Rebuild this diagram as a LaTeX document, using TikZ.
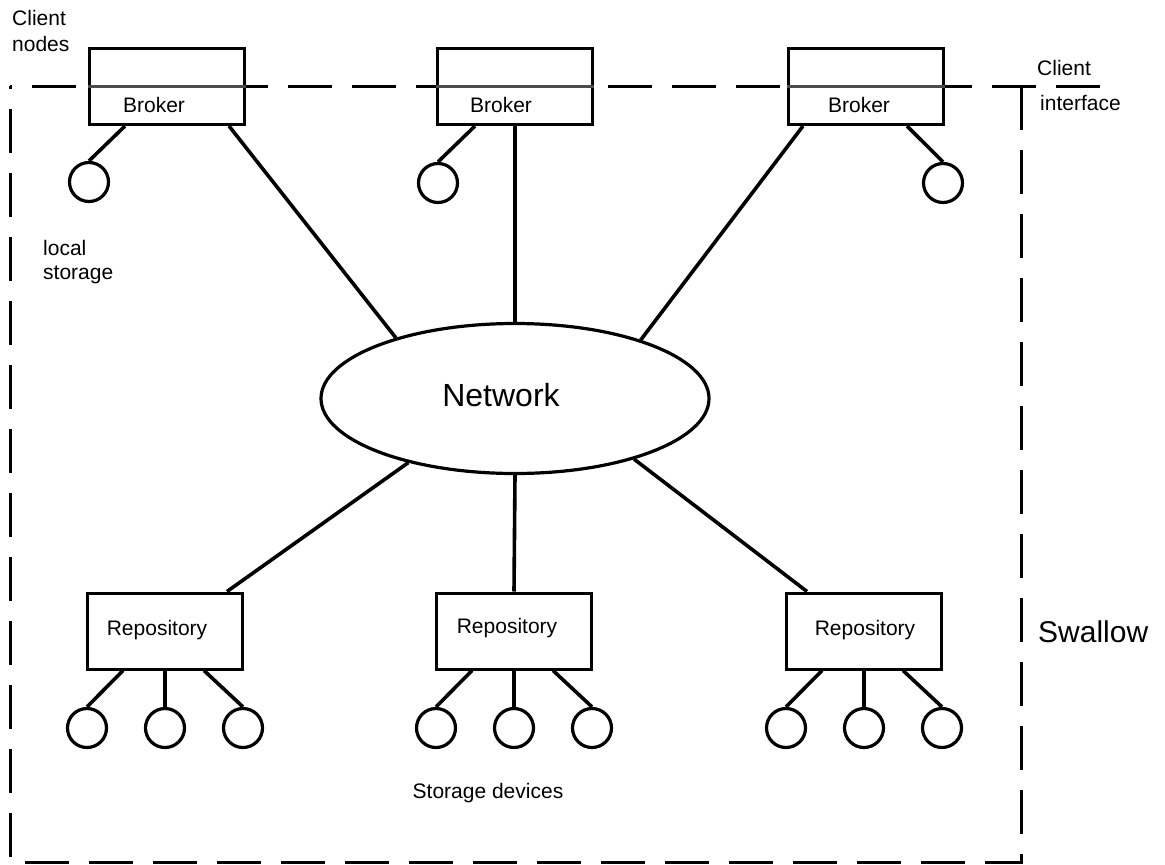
\documentclass[tikz,border=0pt]{standalone}
\usepackage{fontspec}
\setmainfont{Liberation Sans}
\usetikzlibrary{shapes.geometric,calc}
\begin{document}
\begin{tikzpicture}[x=1pt,y=-1pt,
  box/.style={draw,line width=3pt,minimum width=155pt,minimum height=76pt,inner sep=0pt},
  disk/.style={draw,circle,line width=3.2pt,minimum size=39pt,inner sep=0pt},
  link/.style={line width=3.6pt},
  bound/.style={line width=3pt,dash pattern=on 44pt off 20pt},
  inbox/.style={line width=2.4pt,black!70},
  lbl/.style={font=\fontsize{21}{24}\selectfont,inner sep=0pt},
]
\useasboundingbox (0,0) rectangle (1165,865);

% frame
\draw[bound] (1100,86) -- (10,86);
\draw[bound] (1021,86) -- (1021,862) -- (10,862) -- (10,86);

% brokers
\node[box] (b1) at (167,86.5) {};
\node[box] (b2) at (515,86.5) {};
\node[box] (b3) at (866,86.5) {};
\draw[inbox] (b1.west) -- (b1.east);
\draw[inbox] (b2.west) -- (b2.east);
\draw[inbox] (b3.west) -- (b3.east);
\node[lbl] (b1t) at (154,105) {Broker};
\node[lbl] (b2t) at (501,105) {Broker};
\node[lbl] (b3t) at (859,105) {Broker};

% local storage disks
\node[disk] (c1) at (89,182) {};
\node[disk] (c2) at (438,183) {};
\node[disk] (c3) at (943,183) {};

% network
\node[draw,ellipse,line width=3.2pt,minimum width=388pt,minimum height=150pt,inner sep=0pt] (net) at (515,398.5) {};
\node[font=\fontsize{32}{36}\selectfont,inner sep=0pt] (nett) at (501,395) {Network};

% repositories
\node[box] (r1) at (165,631) {};
\node[box] (r2) at (514,631) {};
\node[box] (r3) at (864,631) {};
\node[lbl] (r1t) at (157,630) {Repository};
\node[lbl] (r2t) at (507,628) {Repository};
\node[lbl] (r3t) at (865,630) {Repository};

% storage devices
\node[disk] (d11) at (87,728) {};
\node[disk] (d12) at (165,728) {};
\node[disk] (d13) at (243,728) {};
\node[disk] (d21) at (436,728) {};
\node[disk] (d22) at (514,728) {};
\node[disk] (d23) at (592,728) {};
\node[disk] (d31) at (786,728) {};
\node[disk] (d32) at (864,728) {};
\node[disk] (d33) at (942,728) {};

% broker links
\draw[link] ([xshift=-42pt]b1.south) -- (c1.north);
\draw[link] ([xshift=-40pt]b2.south) -- (c2.north);
\draw[link] ([xshift=41pt]b3.south) -- (c3.north);
\draw[link] ([xshift=62pt]b1.south) -- (net.153);
\draw[link] (b2.south) -- (net.north);
\draw[link] ([xshift=-63pt]b3.south) -- (net.25);

% repository links
\draw[link] (net.211) -- ([xshift=62pt]r1.north);
\draw[link] (net.south) -- (r2.north);
\draw[link] (net.333) -- ([xshift=-57pt]r3.north);

\foreach \r/\a/\b/\c in {r1/d11/d12/d13, r2/d21/d22/d23, r3/d31/d32/d33}{
  \draw[link] ([xshift=-42pt]\r.south) -- (\a.north);
  \draw[link] (\r.south) -- (\b.north);
  \draw[link] ([xshift=39pt]\r.south) -- (\c.north);
}

% labels
\node[lbl,anchor=west] (cn1) at (12,18) {Client};
\node[lbl,anchor=west] (cn2) at (12,44) {nodes};
\node[lbl,anchor=west] (ls1) at (43,248) {local};
\node[lbl,anchor=west] (ls2) at (43,275) {storage};
\node[lbl,anchor=west] (ci1) at (1037,68) {Client};
\node[lbl,anchor=west] (ci2) at (1040,103) {interface};
\node[font=\fontsize{30}{34}\selectfont,anchor=west,inner sep=0pt] (sw) at (1038,632) {Swallow};
\node[lbl] (sd) at (488,793) {Storage devices};
\end{tikzpicture}
\end{document}
